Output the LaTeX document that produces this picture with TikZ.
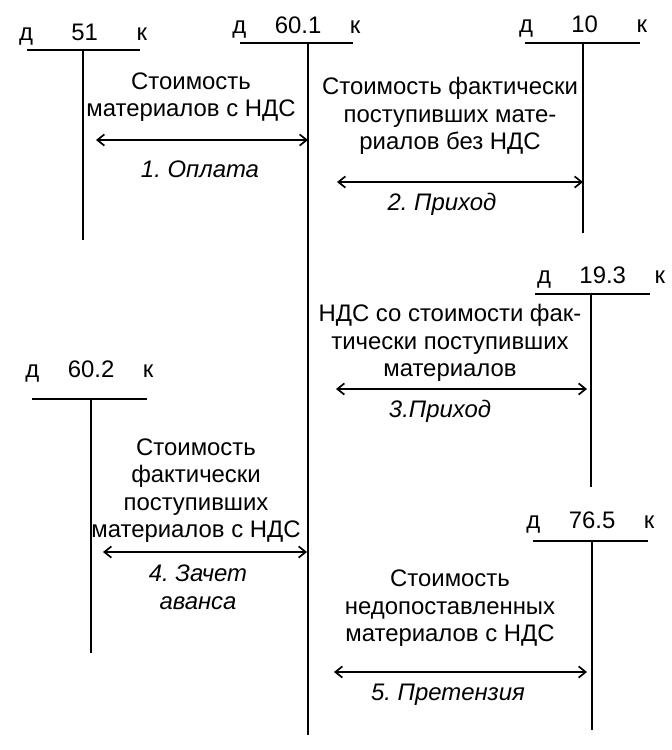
\documentclass[tikz,border=0pt]{standalone}
\usepackage{fontspec}
\setmainfont{Liberation Sans}
\usepackage{tikz}
\usetikzlibrary{arrows.meta, positioning}
\frenchspacing
\newcommand{\schet}[1]{\makebox[3.2cm]{д\hfill #1\hfill к}}

\begin{document}
\begin{tikzpicture}[
          tline/.style={line width=1.2pt},
          arr/.style={line width=1.2pt,
                      {Straight Barb[length=5pt,width=8pt]}-{Straight Barb[length=5pt,width=8pt]}},
          acc/.style={anchor=base,inner sep=0pt,
                      font=\fontsize{17}{19.5}\selectfont},
          txt/.style={align=center,inner sep=0pt,
                      font=\fontsize{17}{19.5}\selectfont},
          lab/.style={txt,font=\fontsize{17}{19.5}\selectfont\itshape}]
        \useasboundingbox (0,0) rectangle (16.8,-18.75);
        % счета
        \coordinate (s51) at (2.075,-1.25);
        \draw[tline] ([xshift=-1.4cm]s51) -- ([xshift=1.425cm]s51);
        \draw[tline] (s51) -- ++(0,-4.75);
        \node[acc] (h51) at ([yshift=0.25cm]s51) {\schet{51}};

        \coordinate (s601) at (7.7,-1.075);
        \draw[tline] ([xshift=-1.7cm]s601) -- ([xshift=1.125cm]s601);
        \draw[tline] (s601) -- ++(0,-17.3);
        \node[acc] (h601) at ([xshift=-0.29cm,yshift=0.25cm]s601) {\schet{60.1}};

        \coordinate (s10) at (14.575,-1.075);
        \draw[tline] ([xshift=-1.45cm]s10) -- ([xshift=1.425cm]s10);
        \draw[tline] (s10) -- ++(0,-4.75);
        \node[acc] (h10) at ([yshift=0.275cm]s10) {\schet{10}};

        \coordinate (s193) at (14.775,-7.35);
        \draw[tline] ([xshift=-1.4cm]s193) -- ([xshift=1.475cm]s193);
        \draw[tline] (s193) -- ++(0,-4.825);
        \node[acc] (h193) at ([xshift=0.25cm,yshift=0.275cm]s193) {\schet{19.3}};

        \coordinate (s602) at (2.275,-9.975);
        \draw[tline] ([xshift=-1.475cm]s602) -- ([xshift=1.4cm]s602);
        \draw[tline] (s602) -- ++(0,-6.35);
        \node[acc] (h602) at ([xshift=-0.04cm,yshift=0.55cm]s602) {\schet{60.2}};

        \coordinate (s765) at (14.8,-13.525);
        \draw[tline] ([xshift=-1.475cm]s765) -- ([xshift=1.4cm]s765);
        \draw[tline] (s765) -- ++(0,-4.725);
        \node[acc] (h765) at ([xshift=-0.04cm,yshift=0.325cm]s765) {\schet{76.5}};

        % проводки
        \coordinate (p1) at (2.4,-3.5);
        \coordinate (q1) at (7.7,-3.5);
        \draw[arr] (p1) -- (q1);
        \node[txt,anchor=south] (t1) at (4.775,-3.05) {Стоимость\\материалов с НДС};
        \node[lab,anchor=north] (o1) at (5.0,-4.025) {1. Оплата};

        \coordinate (p2) at (8.425,-4.55);
        \coordinate (q2) at (14.575,-4.55);
        \draw[arr] (p2) -- (q2);
        \node[txt,anchor=south] (t2) at (11.25,-3.875)
          {Стоимость фактически\\поступивших мате-\\риалов без НДС};
        \node[lab,anchor=north] (o2) at (11.05,-4.825) {2. Приход};

        \coordinate (p3) at (8.4,-9.725);
        \coordinate (q3) at (14.675,-9.725);
        \draw[arr] (p3) -- (q3);
        \node[txt,anchor=south] (t3) at (11.25,-9.55)
          {НДС со стоимости фак-\\тически поступивших\\материалов};
        \node[lab,anchor=north] (o3) at (11.0,-10.0) {3.Приход};

        \coordinate (p4) at (2.575,-13.8);
        \coordinate (q4) at (7.675,-13.8);
        \draw[arr] (p4) -- (q4);
        \node[txt,anchor=south] (t4) at (4.9,-13.575)
          {Стоимость\\фактически\\поступивших\\материалов с НДС};
        \node[lab,anchor=north] (o4) at (4.95,-14.125) {4. Зачет\\аванса};

        \coordinate (p5) at (8.35,-16.8);
        \coordinate (q5) at (14.675,-16.8);
        \draw[arr] (p5) -- (q5);
        \node[txt,anchor=south] (t5) at (11.25,-16.175)
          {Стоимость\\недопоставленных\\материалов с НДС};
        \node[lab,anchor=north] (o5) at (11.2,-17.1) {5. Претензия};
      \end{tikzpicture}
\end{document}
